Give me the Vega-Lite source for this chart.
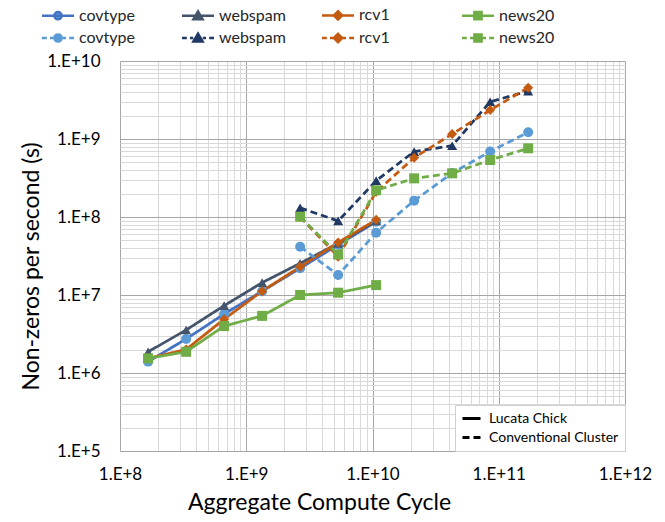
{
  "$schema": "https://vega.github.io/schema/vega-lite/v6.json",
  "width": 505,
  "height": 390,
  "autosize": {"type": "none"},
  "padding": {"left": 120, "top": 61, "right": 40, "bottom": 71},
  "background": "white",
  "config": {
    "view": {"stroke": null},
    "font": "Lato",
    "axis": {"labelFont": "Lato", "titleFont": "Lato", "labelColor": "#000", "titleColor": "#000", "titleFontWeight": "normal"},
    "legend": {"labelFont": "Lato", "labelColor": "#000"}
  },
  "data": {
    "values": [
      {"key": "covtype|Lucata Chick", "system": "Lucata Chick", "x": 1.67e8, "y": 1.40e6},
      {"key": "covtype|Lucata Chick", "system": "Lucata Chick", "x": 3.34e8, "y": 2.73e6},
      {"key": "covtype|Lucata Chick", "system": "Lucata Chick", "x": 6.68e8, "y": 5.7e6},
      {"key": "covtype|Lucata Chick", "system": "Lucata Chick", "x": 1.336e9, "y": 1.12e7},
      {"key": "covtype|Lucata Chick", "system": "Lucata Chick", "x": 2.672e9, "y": 2.2e7},
      {"key": "covtype|Lucata Chick", "system": "Lucata Chick", "x": 5.344e9, "y": 4.4e7},
      {"key": "covtype|Lucata Chick", "system": "Lucata Chick", "x": 1.069e10, "y": 8.7e7},
      {"key": "webspam|Lucata Chick", "system": "Lucata Chick", "x": 1.67e8, "y": 1.87e6},
      {"key": "webspam|Lucata Chick", "system": "Lucata Chick", "x": 3.34e8, "y": 3.56e6},
      {"key": "webspam|Lucata Chick", "system": "Lucata Chick", "x": 6.68e8, "y": 7.3e6},
      {"key": "webspam|Lucata Chick", "system": "Lucata Chick", "x": 1.336e9, "y": 1.44e7},
      {"key": "webspam|Lucata Chick", "system": "Lucata Chick", "x": 2.672e9, "y": 2.55e7},
      {"key": "webspam|Lucata Chick", "system": "Lucata Chick", "x": 5.344e9, "y": 4.6e7},
      {"key": "webspam|Lucata Chick", "system": "Lucata Chick", "x": 1.069e10, "y": 8.9e7},
      {"key": "rcv1|Lucata Chick", "system": "Lucata Chick", "x": 1.67e8, "y": 1.54e6},
      {"key": "rcv1|Lucata Chick", "system": "Lucata Chick", "x": 3.34e8, "y": 2.0e6},
      {"key": "rcv1|Lucata Chick", "system": "Lucata Chick", "x": 6.68e8, "y": 4.9e6},
      {"key": "rcv1|Lucata Chick", "system": "Lucata Chick", "x": 1.336e9, "y": 1.12e7},
      {"key": "rcv1|Lucata Chick", "system": "Lucata Chick", "x": 2.672e9, "y": 2.3e7},
      {"key": "rcv1|Lucata Chick", "system": "Lucata Chick", "x": 5.344e9, "y": 4.7e7},
      {"key": "rcv1|Lucata Chick", "system": "Lucata Chick", "x": 1.069e10, "y": 9.2e7},
      {"key": "news20|Lucata Chick", "system": "Lucata Chick", "x": 1.67e8, "y": 1.54e6},
      {"key": "news20|Lucata Chick", "system": "Lucata Chick", "x": 3.34e8, "y": 1.87e6},
      {"key": "news20|Lucata Chick", "system": "Lucata Chick", "x": 6.68e8, "y": 4.0e6},
      {"key": "news20|Lucata Chick", "system": "Lucata Chick", "x": 1.336e9, "y": 5.4e6},
      {"key": "news20|Lucata Chick", "system": "Lucata Chick", "x": 2.672e9, "y": 1.0e7},
      {"key": "news20|Lucata Chick", "system": "Lucata Chick", "x": 5.344e9, "y": 1.07e7},
      {"key": "news20|Lucata Chick", "system": "Lucata Chick", "x": 1.069e10, "y": 1.34e7},
      {"key": "covtype|Conventional Cluster", "system": "Conventional Cluster", "x": 2.672e9, "y": 4.16e7},
      {"key": "covtype|Conventional Cluster", "system": "Conventional Cluster", "x": 5.344e9, "y": 1.8e7},
      {"key": "covtype|Conventional Cluster", "system": "Conventional Cluster", "x": 1.069e10, "y": 6.3e7},
      {"key": "covtype|Conventional Cluster", "system": "Conventional Cluster", "x": 2.138e10, "y": 1.62e8},
      {"key": "covtype|Conventional Cluster", "system": "Conventional Cluster", "x": 4.275e10, "y": 3.66e8},
      {"key": "covtype|Conventional Cluster", "system": "Conventional Cluster", "x": 8.55e10, "y": 6.9e8},
      {"key": "covtype|Conventional Cluster", "system": "Conventional Cluster", "x": 1.71e11, "y": 1.22e9},
      {"key": "webspam|Conventional Cluster", "system": "Conventional Cluster", "x": 2.672e9, "y": 1.31e8},
      {"key": "webspam|Conventional Cluster", "system": "Conventional Cluster", "x": 5.344e9, "y": 8.9e7},
      {"key": "webspam|Conventional Cluster", "system": "Conventional Cluster", "x": 1.069e10, "y": 2.92e8},
      {"key": "webspam|Conventional Cluster", "system": "Conventional Cluster", "x": 2.138e10, "y": 6.9e8},
      {"key": "webspam|Conventional Cluster", "system": "Conventional Cluster", "x": 4.275e10, "y": 8.2e8},
      {"key": "webspam|Conventional Cluster", "system": "Conventional Cluster", "x": 8.55e10, "y": 3.0e9},
      {"key": "webspam|Conventional Cluster", "system": "Conventional Cluster", "x": 1.71e11, "y": 4.1e9},
      {"key": "rcv1|Conventional Cluster", "system": "Conventional Cluster", "x": 2.672e9, "y": 1.0e8},
      {"key": "rcv1|Conventional Cluster", "system": "Conventional Cluster", "x": 5.344e9, "y": 3.1e7},
      {"key": "rcv1|Conventional Cluster", "system": "Conventional Cluster", "x": 1.069e10, "y": 2.1e8},
      {"key": "rcv1|Conventional Cluster", "system": "Conventional Cluster", "x": 2.138e10, "y": 5.75e8},
      {"key": "rcv1|Conventional Cluster", "system": "Conventional Cluster", "x": 4.275e10, "y": 1.16e9},
      {"key": "rcv1|Conventional Cluster", "system": "Conventional Cluster", "x": 8.55e10, "y": 2.35e9},
      {"key": "rcv1|Conventional Cluster", "system": "Conventional Cluster", "x": 1.71e11, "y": 4.55e9},
      {"key": "news20|Conventional Cluster", "system": "Conventional Cluster", "x": 2.672e9, "y": 1.01e8},
      {"key": "news20|Conventional Cluster", "system": "Conventional Cluster", "x": 5.344e9, "y": 3.3e7},
      {"key": "news20|Conventional Cluster", "system": "Conventional Cluster", "x": 1.069e10, "y": 2.2e8},
      {"key": "news20|Conventional Cluster", "system": "Conventional Cluster", "x": 2.138e10, "y": 3.13e8},
      {"key": "news20|Conventional Cluster", "system": "Conventional Cluster", "x": 4.275e10, "y": 3.63e8},
      {"key": "news20|Conventional Cluster", "system": "Conventional Cluster", "x": 8.55e10, "y": 5.38e8},
      {"key": "news20|Conventional Cluster", "system": "Conventional Cluster", "x": 1.71e11, "y": 7.6e8}
    ]
  },
  "encoding": {
    "x": {
      "field": "x", "type": "quantitative",
      "scale": {"type": "log", "domain": [1e8, 1e12], "nice": false},
      "axis": {
        "values": [1e8,2e8,3e8,4e8,5e8,6e8,7e8,8e8,9e8,1e9,2e9,3e9,4e9,5e9,6e9,7e9,8e9,9e9,1e10,2e10,3e10,4e10,5e10,6e10,7e10,8e10,9e10,1e11,2e11,3e11,4e11,5e11,6e11,7e11,8e11,9e11,1e12],
        "labelExpr": "abs(log(datum.value)/LN10 - round(log(datum.value)/LN10)) < 0.001 ? '1.E+' + round(log(datum.value)/LN10) : ''",
        "grid": true,
        "gridColor": {"condition": {"test": "abs(log(datum.value)/LN10 - round(log(datum.value)/LN10)) < 0.001", "value": "#A6A6A6"}, "value": "#D9D9D9"},
        "gridWidth": 1,
        "domain": false,
        "ticks": false,
        "labelFlush": false,
        "labelOverlap": false,
        "labelBound": false,
        "labelFontSize": 17,
        "labelPadding": 15,
        "title": "Aggregate Compute Cycle",
        "titleFontSize": 23,
        "titleBaseline": "middle",
        "titleAlign": "center",
        "titleX": 199,
        "titleY": 51
      }
    },
    "y": {
      "field": "y", "type": "quantitative",
      "scale": {"type": "log", "domain": [1e5, 1e10], "nice": false},
      "axis": {
        "values": [1e5,2e5,3e5,4e5,5e5,6e5,7e5,8e5,9e5,1e6,2e6,3e6,4e6,5e6,6e6,7e6,8e6,9e6,1e7,2e7,3e7,4e7,5e7,6e7,7e7,8e7,9e7,1e8,2e8,3e8,4e8,5e8,6e8,7e8,8e8,9e8,1e9,2e9,3e9,4e9,5e9,6e9,7e9,8e9,9e9,1e10],
        "labelExpr": "abs(log(datum.value)/LN10 - round(log(datum.value)/LN10)) < 0.001 ? '1.E+' + round(log(datum.value)/LN10) : ''",
        "grid": true,
        "gridColor": {"condition": {"test": "abs(log(datum.value)/LN10 - round(log(datum.value)/LN10)) < 0.001", "value": "#A6A6A6"}, "value": "#D9D9D9"},
        "gridWidth": 1,
        "domain": false,
        "ticks": false,
        "labelOverlap": false,
        "labelBound": false,
        "labelFlush": false,
        "labelFontSize": 17,
        "labelPadding": 20,
        "title": "Non-zeros per second (s)",
        "titleFontSize": 23,
        "titleAngle": -90,
        "titleBaseline": "middle",
        "titleAlign": "center",
        "titleX": -89,
        "titleY": 205
      }
    }
  },
  "resolve": {"scale": {"stroke": "independent", "fill": "independent", "shape": "independent"}},
  "layer": [
    {
      "mark": {"type": "line", "strokeWidth": 2.75},
      "encoding": {
        "stroke": {
          "field": "key", "type": "nominal",
          "scale": {
            "domain": ["covtype|Lucata Chick", "webspam|Lucata Chick", "rcv1|Lucata Chick", "news20|Lucata Chick", "covtype|Conventional Cluster", "webspam|Conventional Cluster", "rcv1|Conventional Cluster", "news20|Conventional Cluster"],
            "range": ["#4472C4", "#44546A", "#C55A11", "#70AD47", "#5B9BD5", "#203864", "#C55A11", "#70AD47"]
          },
          "legend": null
        },
        "strokeDash": {
          "field": "system", "type": "nominal",
          "scale": {"domain": ["Lucata Chick", "Conventional Cluster"], "range": [[1, 0], [7, 4]]},
          "legend": {
            "title": null,
            "orient": "bottom-right",
            "offset": 0,
            "fillColor": "white",
            "strokeColor": "#D0D0D0",
            "padding": 6,
            "symbolType": "M-1,0H2",
            "symbolSize": 144,
            "symbolStrokeColor": "black",
            "symbolStrokeWidth": 3,
            "labelFontSize": 14,
            "labelOffset": 13,
            "rowPadding": 4
          }
        }
      }
    },
    {
      "mark": {"type": "point", "filled": true, "size": 100, "strokeOpacity": 0, "opacity": 1},
      "encoding": {
        "fill": {
          "field": "key", "type": "nominal",
          "scale": {
            "domain": ["covtype|Lucata Chick", "webspam|Lucata Chick", "rcv1|Lucata Chick", "news20|Lucata Chick", "covtype|Conventional Cluster", "webspam|Conventional Cluster", "rcv1|Conventional Cluster", "news20|Conventional Cluster"],
            "range": ["#5B9BD5", "#44546A", "#C55A11", "#70AD47", "#5B9BD5", "#203864", "#C55A11", "#70AD47"]
          },
          "legend": null
        },
        "shape": {
          "field": "key", "type": "nominal",
          "scale": {
            "domain": ["covtype|Lucata Chick", "webspam|Lucata Chick", "rcv1|Lucata Chick", "news20|Lucata Chick", "covtype|Conventional Cluster", "webspam|Conventional Cluster", "rcv1|Conventional Cluster", "news20|Conventional Cluster"],
            "range": ["circle", "triangle-up", "diamond", "square", "circle", "triangle-up", "diamond", "square"]
          },
          "legend": null
        }
      }
    },
    {
      "mark": {"type": "point", "filled": true, "size": 64, "opacity": 0, "strokeWidth": 2.5},
      "encoding": {
        "fill": {
          "field": "key", "type": "nominal",
          "scale": {
            "domain": ["covtype|Lucata Chick", "webspam|Lucata Chick", "rcv1|Lucata Chick", "news20|Lucata Chick", "covtype|Conventional Cluster", "webspam|Conventional Cluster", "rcv1|Conventional Cluster", "news20|Conventional Cluster"],
            "range": ["#5B9BD5", "#44546A", "#C55A11", "#70AD47", "#5B9BD5", "#203864", "#C55A11", "#70AD47"]
          },
          "legend": {
            "title": null, "orient": "none", "legendX": -82, "legendY": -54, "direction": "horizontal",
            "columns": 4, "gridAlign": "all", "columnPadding": 31, "rowPadding": 3, "padding": 0,
            "symbolSize": 64, "symbolStrokeWidth": 2.5, "symbolOpacity": 1,
            "labelFontSize": 16, "labelOffset": 25, "labelColor": "#262626", "labelExpr": "split(datum.label, '|')[0]"
          }
        },
        "stroke": {
          "field": "key", "type": "nominal",
          "scale": {
            "domain": ["covtype|Lucata Chick", "webspam|Lucata Chick", "rcv1|Lucata Chick", "news20|Lucata Chick", "covtype|Conventional Cluster", "webspam|Conventional Cluster", "rcv1|Conventional Cluster", "news20|Conventional Cluster"],
            "range": ["#4472C4", "#44546A", "#C55A11", "#70AD47", "#5B9BD5", "#203864", "#C55A11", "#70AD47"]
          },
          "legend": {
            "title": null, "orient": "none", "legendX": -82, "legendY": -54, "direction": "horizontal",
            "columns": 4, "gridAlign": "all", "columnPadding": 31, "rowPadding": 3, "padding": 0,
            "symbolSize": 64, "symbolStrokeWidth": 2.5, "symbolOpacity": 1,
            "labelFontSize": 16, "labelOffset": 25, "labelColor": "#262626", "labelExpr": "split(datum.label, '|')[0]"
          }
        },
        "shape": {
          "field": "key", "type": "nominal",
          "scale": {
            "domain": ["covtype|Lucata Chick", "webspam|Lucata Chick", "rcv1|Lucata Chick", "news20|Lucata Chick", "covtype|Conventional Cluster", "webspam|Conventional Cluster", "rcv1|Conventional Cluster", "news20|Conventional Cluster"],
            "range": [
              "M-1,0H7M3.9,0A0.9,0.9,0,1,1,2.1,0A0.9,0.9,0,1,1,3.9,0Z",
              "M-1,0H7M3,-1.1L4.15,0.85L1.85,0.85Z",
              "M-1,0H7M3,-1.05L4.05,0L3,1.05L1.95,0Z",
              "M-1,0H7M2.1,-0.9H3.9V0.9H2.1Z",
              "M-1,0H0.2M1,0H1.8M4.2,0H5M5.8,0H7M3.9,0A0.9,0.9,0,1,1,2.1,0A0.9,0.9,0,1,1,3.9,0Z",
              "M-1,0H0.2M1,0H1.8M4.2,0H5M5.8,0H7M3,-1.1L4.15,0.85L1.85,0.85Z",
              "M-1,0H0.2M1,0H1.8M4.2,0H5M5.8,0H7M3,-1.05L4.05,0L3,1.05L1.95,0Z",
              "M-1,0H0.2M1,0H1.8M4.2,0H5M5.8,0H7M2.1,-0.9H3.9V0.9H2.1Z"
            ]
          },
          "legend": {
            "title": null, "orient": "none", "legendX": -82, "legendY": -54, "direction": "horizontal",
            "columns": 4, "gridAlign": "all", "columnPadding": 31, "rowPadding": 3, "padding": 0,
            "symbolSize": 64, "symbolStrokeWidth": 2.5, "symbolOpacity": 1,
            "labelFontSize": 16, "labelOffset": 25, "labelColor": "#262626", "labelExpr": "split(datum.label, '|')[0]"
          }
        }
      }
    }
  ]
}
